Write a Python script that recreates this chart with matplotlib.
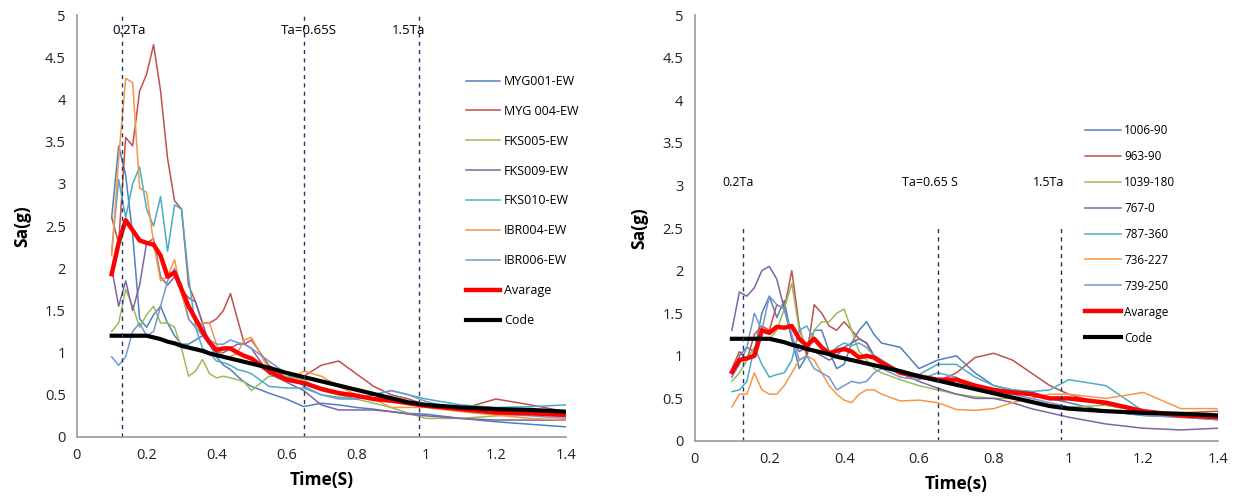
import matplotlib.pyplot as plt

plt.rcParams['font.family'] = ['Open Sans', 'DejaVu Sans']

# period grid shared by all curves (s)
T = [0.10, 0.12, 0.14, 0.16, 0.18, 0.20, 0.22, 0.24, 0.26, 0.28, 0.30,
     0.32, 0.34, 0.36, 0.38, 0.40, 0.42, 0.44, 0.46, 0.48, 0.50,
     0.55, 0.60, 0.65, 0.70, 0.75, 0.80, 0.85, 0.90, 0.95, 1.00,
     1.10, 1.20, 1.30, 1.40]

# ---- left panel (EW records) ----
myg001 = [2.6, 3.45, 3.1, 2.4, 1.4, 1.3, 1.45, 1.55, 1.35, 1.2, 1.1,
          1.1, 1.15, 1.2, 1.1, 0.95, 0.85, 0.8, 0.72, 0.65, 0.6,
          0.52, 0.45, 0.36, 0.4, 0.38, 0.35, 0.33, 0.3, 0.28, 0.27,
          0.22, 0.18, 0.15, 0.12]
myg004 = [2.6, 2.3, 3.55, 3.45, 4.1, 4.3, 4.65, 4.1, 3.3, 2.8, 2.7,
          1.8, 1.6, 1.35, 1.35, 1.4, 1.5, 1.7, 1.4, 1.1, 1.15,
          0.85, 0.7, 0.72, 0.85, 0.9, 0.75, 0.6, 0.5, 0.45, 0.38,
          0.33, 0.45, 0.38, 0.3]
fks005 = [1.25, 1.35, 1.75, 1.55, 1.3, 1.45, 1.55, 1.35, 1.35, 1.3, 1.05,
          0.72, 0.78, 0.92, 0.75, 0.7, 0.72, 0.7, 0.68, 0.65, 0.55,
          0.72, 0.72, 0.68, 0.55, 0.5, 0.45, 0.4, 0.35, 0.28, 0.22,
          0.22, 0.25, 0.27, 0.28]
fks009 = [2.0, 1.55, 1.85, 1.5, 1.8, 2.3, 2.35, 1.9, 1.8, 1.9, 1.75,
          1.65, 1.6, 1.35, 1.1, 1.0, 1.0, 1.05, 1.1, 1.1, 1.05,
          0.75, 0.65, 0.55, 0.38, 0.32, 0.32, 0.32, 0.3, 0.27, 0.25,
          0.22, 0.2, 0.2, 0.2]
fks010 = [2.2, 3.05, 2.6, 3.0, 3.2, 2.7, 2.5, 2.85, 2.2, 2.75, 2.7,
          1.9, 1.3, 1.05, 1.0, 0.9, 0.88, 0.85, 0.8, 0.78, 0.75,
          0.6, 0.58, 0.58, 0.5, 0.47, 0.45, 0.5, 0.55, 0.5, 0.45,
          0.38, 0.35, 0.36, 0.38]
ibr004 = [2.15, 3.3, 4.25, 4.2, 2.95, 2.9, 2.3, 1.85, 1.9, 2.1, 1.7,
          1.4, 1.3, 1.35, 1.35, 1.1, 0.95, 0.95, 1.0, 1.15, 1.18,
          0.8, 0.65, 0.78, 0.72, 0.6, 0.5, 0.45, 0.35, 0.35, 0.35,
          0.3, 0.26, 0.22, 0.2]
ibr006 = [0.95, 0.85, 0.95, 1.25, 1.35, 1.2, 1.25, 1.55, 1.85, 2.0, 1.8,
          1.4, 1.3, 1.2, 1.15, 1.1, 1.1, 1.15, 1.12, 1.1, 1.05,
          0.9, 0.75, 0.6, 0.5, 0.45, 0.45, 0.5, 0.55, 0.5, 0.42,
          0.32, 0.28, 0.25, 0.22]
avg_left = [1.93, 2.3, 2.57, 2.45, 2.33, 2.3, 2.28, 2.15, 1.9, 1.95, 1.75,
            1.55, 1.4, 1.25, 1.12, 1.03, 1.05, 1.05, 1.0, 0.96, 0.93,
            0.78, 0.68, 0.64, 0.57, 0.52, 0.49, 0.45, 0.43, 0.4, 0.37,
            0.33, 0.29, 0.28, 0.26]

# design spectrum (same in both panels)
code = [1.2, 1.2, 1.2, 1.2, 1.2, 1.2, 1.18, 1.16, 1.13, 1.11, 1.08,
        1.06, 1.04, 1.02, 0.99, 0.97, 0.95, 0.93, 0.91, 0.89, 0.87,
        0.82, 0.76, 0.71, 0.66, 0.61, 0.56, 0.51, 0.46, 0.41, 0.38,
        0.35, 0.33, 0.32, 0.3]

# ---- right panel ----
r1006_90 = [0.75, 1.0, 1.1, 1.05, 1.5, 1.7, 1.45, 1.65, 1.2, 0.85, 1.0,
            1.3, 1.3, 1.05, 0.85, 0.9, 1.15, 1.3, 1.4, 1.25, 1.15,
            1.1, 0.85, 0.95, 1.0, 0.8, 0.65, 0.6, 0.58, 0.5, 0.45,
            0.35, 0.3, 0.28, 0.25]
r963_90 = [0.85, 1.05, 0.95, 1.25, 1.35, 1.3, 1.6, 1.55, 2.0, 1.35, 1.0,
           1.6, 1.5, 1.35, 1.3, 1.4, 1.3, 1.2, 1.15, 1.0, 0.95,
           0.8, 0.75, 0.7, 0.8, 0.98, 1.03, 0.95, 0.8, 0.65, 0.55,
           0.42, 0.35, 0.33, 0.35]
r1039_180 = [0.7, 0.8, 0.95, 1.1, 1.2, 1.2, 1.3, 1.55, 1.85, 1.3, 1.1,
             1.3, 1.4, 1.4, 1.5, 1.55, 1.3, 1.05, 0.95, 0.85, 0.8,
             0.72, 0.65, 0.6, 0.55, 0.52, 0.5, 0.5, 0.45, 0.42, 0.4,
             0.42, 0.35, 0.32, 0.25]
r767_0 = [1.3, 1.75, 1.7, 1.8, 2.0, 2.05, 1.9, 1.55, 1.2, 1.05, 1.1,
          1.05, 1.0, 0.95, 1.0, 1.1, 1.15, 1.2, 1.15, 1.0, 0.9,
          0.8, 0.7, 0.62, 0.55, 0.5, 0.5, 0.45, 0.38, 0.33, 0.28,
          0.2, 0.15, 0.13, 0.15]
r787_360 = [0.58, 0.6, 0.7, 1.1, 0.9, 0.75, 0.78, 0.8, 0.95, 1.3, 1.35,
            1.2, 1.1, 1.0, 1.1, 1.15, 1.12, 1.15, 1.1, 1.0, 0.95,
            0.82, 0.78, 0.9, 0.9, 0.75, 0.65, 0.6, 0.58, 0.6, 0.72,
            0.65, 0.35, 0.3, 0.25]
r736_227 = [0.4, 0.55, 0.55, 0.8, 0.6, 0.55, 0.55, 0.65, 0.8, 0.95, 1.0,
            0.95, 0.8, 0.65, 0.55, 0.48, 0.45, 0.55, 0.6, 0.6, 0.55,
            0.47, 0.48, 0.45, 0.37, 0.36, 0.38, 0.45, 0.5, 0.55, 0.55,
            0.5, 0.57, 0.38, 0.38]
r739_250 = [0.75, 0.9, 1.1, 1.5, 1.3, 1.7, 1.6, 1.55, 1.25, 0.95, 1.0,
            0.85, 0.8, 0.75, 0.6, 0.65, 0.7, 0.68, 0.7, 0.8, 0.85,
            0.75, 0.72, 0.8, 0.75, 0.6, 0.55, 0.55, 0.5, 0.45, 0.4,
            0.35, 0.3, 0.28, 0.25]
avg_right = [0.81, 0.95, 0.97, 1.0, 1.3, 1.27, 1.34, 1.33, 1.35, 1.2, 1.12,
             1.2, 1.1, 1.03, 1.06, 1.08, 1.05, 0.98, 1.0, 0.98, 0.92,
             0.8, 0.76, 0.72, 0.72, 0.65, 0.6, 0.57, 0.55, 0.5, 0.5,
             0.45, 0.35, 0.3, 0.28]

colors = ['#4F81BD', '#C0504D', '#9BBB59', '#8064A2', '#4BACC6', '#F79646', '#7399D0']

left_names = ['MYG001-EW', 'MYG 004-EW', 'FKS005-EW', 'FKS009-EW',
              'FKS010-EW', 'IBR004-EW', 'IBR006-EW']
left_series = [myg001, myg004, fks005, fks009, fks010, ibr004, ibr006]
right_names = ['1006-90', '963-90', '1039-180', '767-0', '787-360', '736-227', '739-250']
right_series = [r1006_90, r963_90, r1039_180, r767_0, r787_360, r736_227, r739_250]

marker_T = [0.13, 0.65, 0.98]

fig = plt.figure(figsize=(12.38, 5.04), dpi=100)
ax1 = fig.add_axes([0.062, 0.133, 0.395, 0.837])
ax2 = fig.add_axes([0.561, 0.125, 0.423, 0.845])


def style(ax, xlabel):
    ax.set_xlim(0, 1.4)
    ax.set_ylim(0, 5)
    ax.set_xticks([0, 0.2, 0.4, 0.6, 0.8, 1.0, 1.2, 1.4])
    ax.set_xticklabels(['0', '0.2', '0.4', '0.6', '0.8', '1', '1.2', '1.4'])
    ax.set_yticks([0, 0.5, 1, 1.5, 2, 2.5, 3, 3.5, 4, 4.5, 5])
    ax.set_yticklabels(['0', '0.5', '1', '1.5', '2', '2.5', '3', '3.5', '4', '4.5', '5'])
    ax.tick_params(length=0, labelsize=10.5, colors='#222222', pad=8)
    for s in ['top', 'right']:
        ax.spines[s].set_visible(False)
    for s in ['left', 'bottom']:
        ax.spines[s].set_color('#9a9a9a')
        ax.spines[s].set_linewidth(1.2)
    ax.set_xlabel(xlabel, fontsize=12.5, fontweight='bold', labelpad=6)
    ax.set_ylabel('Sa(g)', fontsize=12.5, fontweight='bold', labelpad=10)


for name, vals, c in zip(left_names, left_series, colors):
    ax1.plot(T, vals, color=c, lw=1.1, label=name)
ax1.plot(T, avg_left, color='#FF0000', lw=3.2, label='Avarage')
ax1.plot(T, code, color='black', lw=3.0, label='Code')
for t in marker_T:
    ax1.plot([t, t], [0, 5], color='#1F3864', lw=1, ls=(0, (3, 3)))
ax1.text(0.15, 4.82, '0.2Ta', ha='center', va='center', fontsize=9.5)
ax1.text(0.665, 4.82, 'Ta=0.65S', ha='center', va='center', fontsize=9.5)
ax1.text(0.95, 4.82, '1.5Ta', ha='center', va='center', fontsize=9.5)
style(ax1, 'Time(S)')
ax1.legend(loc='upper left', bbox_to_anchor=(0.774, 0.885), frameon=False,
           fontsize=9, handlelength=2.7, handletextpad=0.3, labelspacing=1.35)

for name, vals, c in zip(right_names, right_series, colors):
    ax2.plot(T, vals, color=c, lw=1.1, label=name)
ax2.plot(T, avg_right, color='#FF0000', lw=3.2, label='Avarage')
ax2.plot(T, code, color='black', lw=3.0, label='Code')
for t in marker_T:
    ax2.plot([t, t], [0, 2.5], color='#1F3864', lw=1, ls=(0, (3, 3)))
ax2.text(0.117, 3.04, '0.2Ta', ha='center', va='center', fontsize=9)
ax2.text(0.63, 3.04, 'Ta=0.65 S', ha='center', va='center', fontsize=9)
ax2.text(0.947, 3.04, '1.5Ta', ha='center', va='center', fontsize=9)
style(ax2, 'Time(s)')
ax2.legend(loc='upper left', bbox_to_anchor=(0.726, 0.77), frameon=False,
           fontsize=8.5, handlelength=3.0, handletextpad=0.3, labelspacing=1.1)

fig.savefig('out.png', dpi=100)
